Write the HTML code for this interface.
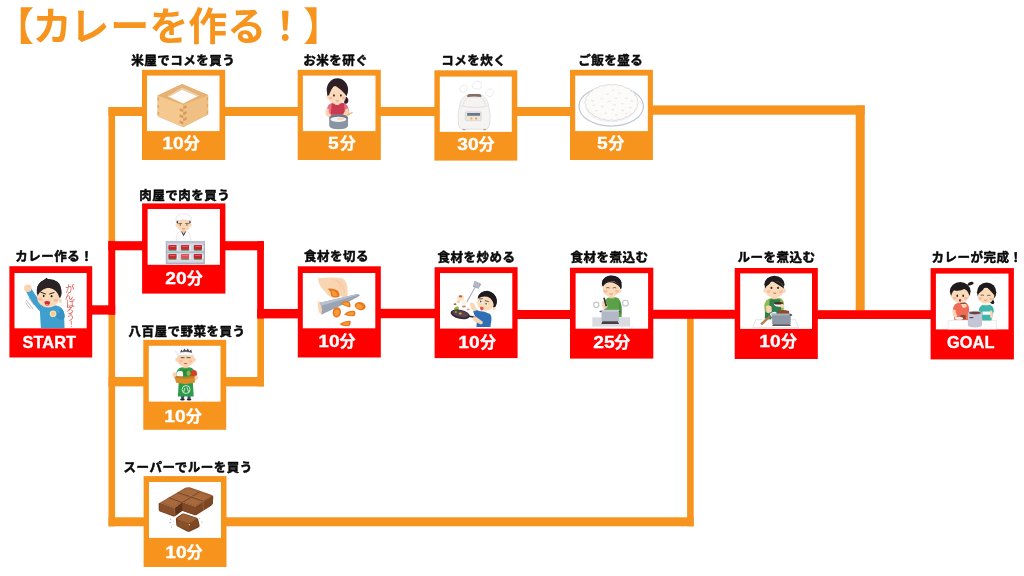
<!DOCTYPE html>
<html lang="ja"><head><meta charset="utf-8"><title>カレーを作る！</title>
<style>
html,body{margin:0;padding:0;background:#fff}
body{width:1024px;height:576px;overflow:hidden;position:relative;font-family:"Liberation Sans","Noto Sans CJK JP",sans-serif}
#art{position:absolute;left:0;top:0}
#art svg.ic{overflow:hidden}
#art text{font-family:"Liberation Sans","Noto Sans CJK JP",sans-serif}
.band{position:absolute;width:90px;text-align:center;color:#fff;font-weight:bold;font-size:16px;line-height:16px;white-space:nowrap}
.band span{display:inline-block;vertical-align:top}
.band .d{transform:scaleX(1.2);transform-origin:50% 50%;margin:0 1.8px;-webkit-text-stroke:0.3px #fff}
.band .w{font-size:16.4px;-webkit-text-stroke:0.35px #fff}
.band .f{font-size:16px;font-family:"Liberation Sans","Noto Sans CJK JP",sans-serif;-webkit-text-stroke:0.3px #fff}
#stage{position:absolute;left:0;top:0;width:1024px;height:576px;overflow:hidden;background:#fff;filter:blur(0.5px)}
</style></head><body>
<div id="stage">
<svg id="art" width="1024" height="576" viewBox="0 0 1024 576">
<g id="connectors">
<rect x="108.5" y="107.0" width="6.6" height="419.3" fill="#F7941E"/>
<rect x="108.5" y="107.0" width="34.5" height="9.0" fill="#F7941E"/>
<rect x="224.0" y="107.0" width="75.0" height="9.0" fill="#F7941E"/>
<rect x="380.0" y="107.0" width="55.0" height="9.0" fill="#F7941E"/>
<rect x="516.0" y="107.0" width="55.0" height="9.0" fill="#F7941E"/>
<rect x="652.0" y="105.4" width="212.7" height="9.3" fill="#F7941E"/>
<rect x="855.7" y="105.4" width="9.0" height="205.1" fill="#F7941E"/>
<rect x="108.5" y="377.0" width="35.5" height="9.4" fill="#F7941E"/>
<rect x="225.0" y="377.0" width="39.0" height="9.4" fill="#F7941E"/>
<rect x="257.3" y="318.0" width="6.7" height="68.4" fill="#F7941E"/>
<rect x="108.5" y="517.3" width="35.5" height="9.0" fill="#F7941E"/>
<rect x="225.0" y="517.3" width="468.7" height="9.0" fill="#F7941E"/>
<rect x="687.1" y="318.0" width="6.6" height="208.3" fill="#F7941E"/>
<rect x="91.0" y="305.3" width="24.2" height="9.3" fill="#FE0000"/>
<rect x="108.4" y="241.2" width="6.8" height="73.4" fill="#FE0000"/>
<rect x="108.4" y="241.2" width="34.6" height="9.1" fill="#FE0000"/>
<rect x="224.0" y="241.2" width="39.9" height="9.1" fill="#FE0000"/>
<rect x="257.2" y="241.2" width="6.7" height="77.2" fill="#FE0000"/>
<rect x="257.2" y="309.0" width="41.8" height="9.4" fill="#FE0000"/>
<rect x="380.0" y="308.8" width="56.0" height="9.4" fill="#FE0000"/>
<rect x="516.0" y="310.0" width="55.0" height="9.0" fill="#FE0000"/>
<rect x="652.0" y="309.8" width="84.0" height="9.0" fill="#FE0000"/>
<rect x="816.0" y="310.2" width="116.0" height="8.8" fill="#FE0000"/>
</g>
<g id="rice_shop"><rect x="142.0" y="69.8" width="83.2" height="90.2" fill="#F7941E"/><rect x="147.0" y="75.6" width="72.5" height="55.5" fill="#fff"/><svg class="ic" x="147.0" y="75.6" width="72.5" height="55.5" viewBox="147.0 75.6 72.5 55.5"><g transform="translate(147 75) scale(0.09891)">
<polygon points="355,92 618,203 618,400 365,528 107,416 107,208" fill="#E9B879"/>
<polygon points="107,208 365,300 365,528 107,416" fill="#F4C88F"/>
<polygon points="365,300 618,203 618,400 365,528" fill="#EFBF83"/>
<polygon points="355,92 618,203 365,300 107,208" fill="#E6B273"/>
<polygon points="355,128 525,208 365,288 210,214" fill="#FFFDFB"/>
<polygon points="355,128 525,208 500,212 355,150 235,214 210,214" fill="#D9A566" opacity=".55"/>
<g fill="#D39B5C">
<polygon points="365,318 400,305 400,330 365,345"/>
<polygon points="330,335 365,348 365,375 330,362"/>
<polygon points="365,378 400,364 400,392 365,406"/>
<polygon points="330,396 365,410 365,438 330,424"/>
<polygon points="365,440 400,425 400,452 365,468"/>
<polygon points="330,458 365,472 365,500 330,486"/>
</g>
<g fill="#DDA96B">
<polygon points="107,225 122,231 122,262 107,256"/>
<polygon points="107,300 122,306 122,338 107,332"/>
<polygon points="107,370 122,376 122,405 107,399"/>
<polygon points="618,222 603,228 603,258 618,252"/>
<polygon points="618,292 603,298 603,328 618,322"/>
<polygon points="618,358 603,364 603,392 618,386"/>
</g>
</g>
</svg></g>
<g id="wash"><rect x="297.7" y="69.8" width="83.1" height="90.2" fill="#F7941E"/><rect x="302.9" y="75.6" width="72.6" height="55.5" fill="#fff"/><svg class="ic" x="302.9" y="75.6" width="72.6" height="55.5" viewBox="302.9 75.6 72.6 55.5"><g transform="translate(303 75) scale(0.09891)">
<!-- ponytail -->
<path d="M425,215 Q470,235 455,275 Q440,300 415,285 Z" fill="#2E1F26"/>
<!-- hair back -->
<ellipse cx="348" cy="150" rx="108" ry="116" fill="#2E1F26"/>
<!-- body -->
<path d="M245,330 Q255,285 310,280 L390,280 Q445,285 458,330 L470,400 L420,430 L280,430 L232,400 Z" fill="#EC6F80"/>
<path d="M290,285 L415,285 L425,400 L282,400 Z" fill="#C93A50"/>
<!-- neck -->
<path d="M318,270 L372,270 L368,298 Q345,310 322,298 Z" fill="#F6CBA6"/>
<!-- face -->
<ellipse cx="342" cy="215" rx="94" ry="80" fill="#FBDABB"/>
<ellipse cx="252" cy="222" rx="14" ry="18" fill="#FBDABB"/>
<ellipse cx="338" cy="178" rx="84" ry="66" fill="#FBDABB"/>
<!-- bangs -->
<path d="M244,210 Q245,118 318,100 Q285,140 262,205 Z" fill="#2E1F26"/>
<path d="M318,100 Q430,100 442,210 Q395,150 318,100 Z" fill="#2E1F26"/>
<ellipse cx="313" cy="206" rx="9" ry="12" fill="#3a2a2a"/>
<ellipse cx="383" cy="206" rx="9" ry="12" fill="#3a2a2a"/>
<ellipse cx="280" cy="232" rx="20" ry="13" fill="#F7A9A0" opacity=".7"/>
<ellipse cx="412" cy="232" rx="20" ry="13" fill="#F7A9A0" opacity=".7"/>
<path d="M335,262 Q347,270 360,262" stroke="#C96A5A" stroke-width="6" fill="none" stroke-linecap="round"/>
<!-- arms -->
<path d="M238,335 Q215,380 235,410 Q262,440 290,425 L275,395 Q255,385 262,345 Z" fill="#FAD6B4"/>
<path d="M452,335 Q475,375 452,405 Q420,440 385,450 L370,425 Q415,405 428,350 Z" fill="#FAD6B4"/>
<!-- stick -->
<path d="M395,425 L498,372 L505,385 L402,440 Z" fill="#E9C38E"/>
<!-- pot -->
<path d="M265,440 L265,510 Q265,545 360,548 Q455,545 455,510 L455,440 Z" fill="#8A94A2"/>
<ellipse cx="360" cy="436" rx="96" ry="40" fill="#6F7886"/>
<ellipse cx="358" cy="448" rx="82" ry="27" fill="#EEF2F7"/>
<path d="M345,440 Q380,420 420,435 L400,455 Q370,450 350,460 Z" fill="#FAD6B4"/>
</g>
</svg></g>
<g id="cooker"><rect x="434.4" y="70.3" width="82.9" height="90.3" fill="#F7941E"/><rect x="439.8" y="76.6" width="72.0" height="55.3" fill="#fff"/><svg class="ic" x="439.8" y="76.6" width="72.0" height="55.3" viewBox="439.8 76.6 72.0 55.3"><g transform="translate(440 76) scale(0.09891)">
<!-- steam -->
<g fill="#fff" stroke="#E4E4E6" stroke-width="7">
<path d="M205,150 Q190,110 225,100 Q235,80 262,95 Q285,100 272,130 Q265,165 235,168 Z"/>
<path d="M330,120 Q310,85 345,70 Q360,40 395,55 Q425,60 418,95 Q425,125 390,135 Z"/>
<path d="M465,190 Q450,160 480,145 Q495,120 525,135 Q550,150 535,180 Q525,215 495,210 Z"/>
</g>
<!-- body -->
<path d="M200,290 Q215,205 290,190 L410,190 Q470,205 490,290 Q520,400 500,500 Q495,535 450,538 L245,538 Q195,535 188,500 Q170,400 200,290 Z" fill="#F6F4F3" stroke="#DAD7D6" stroke-width="7"/>
<path d="M205,300 Q345,335 485,300" fill="none" stroke="#D8D5D4" stroke-width="7"/>
<path d="M235,290 Q250,225 300,212 L400,212 Q440,225 458,290" fill="none" stroke="#DAD7D6" stroke-width="7"/>
<!-- handle -->
<path d="M275,200 Q275,182 300,182 L395,182 Q418,182 418,200 L418,212 Q345,200 275,212 Z" fill="#8B6B66"/>
<!-- panel -->
<rect x="255" y="362" width="162" height="90" rx="8" fill="#E4E2E4" stroke="#CFCBCD" stroke-width="5"/>
<rect x="275" y="374" width="130" height="28" fill="#66788A"/>
<rect x="270" y="414" width="130" height="30" rx="6" fill="#F3E7D3"/>
<circle cx="318" cy="430" r="11" fill="#F0A04B"/>
<circle cx="366" cy="430" r="11" fill="#E8903C"/>
<!-- feet -->
<rect x="228" y="535" width="28" height="14" rx="4" fill="#A9A6A8"/>
<rect x="438" y="535" width="28" height="14" rx="4" fill="#A9A6A8"/>
</g>
</svg></g>
<g id="plate"><rect x="570.0" y="69.8" width="82.9" height="90.2" fill="#F7941E"/><rect x="575.2" y="75.6" width="72.6" height="55.5" fill="#fff"/><svg class="ic" x="575.2" y="75.6" width="72.6" height="55.5" viewBox="575.2 75.6 72.6 55.5"><g transform="translate(575 75) scale(0.09891)">
<ellipse cx="366" cy="316" rx="326" ry="200" fill="#FDFDFE" stroke="#BFC6D2" stroke-width="12"/>
<ellipse cx="366" cy="322" rx="250" ry="150" fill="none" stroke="#E6E9EE" stroke-width="8"/>
<path d="M639,278 Q642,291 625,303 Q637,318 628,329 Q626,343 605,351 Q610,367 596,377 Q589,389 565,393 Q563,409 546,416 Q534,426 510,425 Q501,441 482,444 Q466,452 443,446 Q428,459 408,459 Q390,463 370,453 Q350,463 332,459 Q312,459 297,446 Q274,452 258,444 Q239,441 230,425 Q206,426 194,416 Q177,409 175,393 Q151,389 144,377 Q130,367 135,351 Q114,343 112,329 Q103,318 115,303 Q98,291 101,278 Q98,265 115,253 Q103,238 112,227 Q114,213 135,205 Q130,189 144,179 Q151,167 175,163 Q177,147 194,140 Q206,130 230,131 Q239,115 258,112 Q274,104 297,110 Q312,97 332,97 Q350,93 370,103 Q390,93 408,97 Q428,97 443,110 Q466,104 482,112 Q501,115 510,131 Q534,130 546,140 Q563,147 565,163 Q589,167 596,179 Q610,189 605,205 Q626,213 628,227 Q637,238 625,253 Q642,265 639,278 Z" fill="#FCFBFA" stroke="#DDD6D2" stroke-width="9"/>
<ellipse cx="385" cy="155" rx="17" ry="8" fill="#ECE9E8"/><ellipse cx="450" cy="185" rx="17" ry="8" fill="#ECE9E8"/><ellipse cx="330" cy="195" rx="17" ry="8" fill="#ECE9E8"/><ellipse cx="270" cy="240" rx="17" ry="8" fill="#ECE9E8"/><ellipse cx="415" cy="235" rx="17" ry="8" fill="#ECE9E8"/><ellipse cx="520" cy="235" rx="17" ry="8" fill="#ECE9E8"/><ellipse cx="345" cy="265" rx="17" ry="8" fill="#ECE9E8"/><ellipse cx="175" cy="260" rx="17" ry="8" fill="#ECE9E8"/><ellipse cx="575" cy="265" rx="17" ry="8" fill="#ECE9E8"/><ellipse cx="480" cy="290" rx="17" ry="8" fill="#ECE9E8"/><ellipse cx="190" cy="305" rx="17" ry="8" fill="#ECE9E8"/><ellipse cx="275" cy="320" rx="17" ry="8" fill="#ECE9E8"/><ellipse cx="400" cy="300" rx="17" ry="8" fill="#ECE9E8"/><ellipse cx="560" cy="330" rx="17" ry="8" fill="#ECE9E8"/><ellipse cx="385" cy="350" rx="17" ry="8" fill="#ECE9E8"/><ellipse cx="480" cy="360" rx="17" ry="8" fill="#ECE9E8"/><ellipse cx="215" cy="360" rx="17" ry="8" fill="#ECE9E8"/><ellipse cx="310" cy="385" rx="17" ry="8" fill="#ECE9E8"/><ellipse cx="420" cy="405" rx="17" ry="8" fill="#ECE9E8"/><ellipse cx="520" cy="390" rx="17" ry="8" fill="#ECE9E8"/>
</g>
</svg></g>
<g id="butcher"><rect x="142.1" y="203.4" width="83.3" height="90.2" fill="#FE0000"/><rect x="147.6" y="209.0" width="72.3" height="55.8" fill="#fff"/><svg class="ic" x="147.6" y="209.0" width="72.3" height="55.8" viewBox="147.6 209.0 72.3 55.8"><g transform="translate(147 208) scale(0.09891)">
<!-- body coat -->
<path d="M295,340 Q292,260 330,238 L410,238 Q445,260 442,340 Z" fill="#FBFBFC" stroke="#DADCE2" stroke-width="6"/>
<path d="M345,238 L370,285 L395,238 Z" fill="#3E3A44"/>
<path d="M352,236 L370,262 L388,236 Z" fill="#F8D2B0"/>
<!-- head -->
<ellipse cx="370" cy="168" rx="72" ry="68" fill="#FAD7B6"/>
<ellipse cx="298" cy="172" rx="10" ry="15" fill="#FAD7B6"/>
<ellipse cx="442" cy="172" rx="10" ry="15" fill="#FAD7B6"/>
<path d="M298,150 Q296,128 312,122 L312,160 Z" fill="#3a3036"/>
<path d="M442,150 Q444,128 428,122 L428,160 Z" fill="#3a3036"/>
<!-- cap -->
<path d="M292,128 Q285,62 370,58 Q455,62 448,128 Q370,112 292,128 Z" fill="#FDFDFE" stroke="#D9DBE1" stroke-width="6"/>
<path d="M320,158 L350,156" stroke="#4a3a3a" stroke-width="7" stroke-linecap="round"/>
<path d="M390,156 L420,158" stroke="#4a3a3a" stroke-width="7" stroke-linecap="round"/>
<ellipse cx="336" cy="172" rx="6" ry="8" fill="#3a2c2c"/>
<ellipse cx="404" cy="172" rx="6" ry="8" fill="#3a2c2c"/>
<path d="M358,210 Q370,216 382,210" stroke="#B8624E" stroke-width="6" fill="none" stroke-linecap="round"/>
<!-- case -->
<rect x="190" y="335" width="396" height="232" fill="#AAB4C6"/>
<rect x="205" y="352" width="366" height="200" fill="#D3D8E2"/>
<rect x="190" y="440" width="396" height="14" fill="#AAB4C6"/>
<rect x="190" y="335" width="396" height="22" fill="#B9C1D0"/>
<rect x="216" y="374" width="84" height="50" rx="10" fill="#C8242E"/><rect x="218" y="422" width="80" height="10" rx="4" fill="#4E9A4B"/><rect x="228" y="388" width="60" height="6" rx="3" fill="#F2B7B4" opacity=".8"/><rect x="302" y="382" width="12" height="40" fill="#F4F4F6"/><rect x="343" y="374" width="84" height="50" rx="10" fill="#C42B35"/><rect x="345" y="422" width="80" height="10" rx="4" fill="#4E9A4B"/><rect x="355" y="388" width="60" height="6" rx="3" fill="#F2B7B4" opacity=".8"/><rect x="429" y="382" width="12" height="40" fill="#F4F4F6"/><rect x="473" y="374" width="84" height="50" rx="10" fill="#BE2630"/><rect x="475" y="422" width="80" height="10" rx="4" fill="#4E9A4B"/><rect x="485" y="388" width="60" height="6" rx="3" fill="#F2B7B4" opacity=".8"/><rect x="559" y="382" width="12" height="40" fill="#F4F4F6"/><rect x="216" y="466" width="84" height="50" rx="10" fill="#C92A30"/><rect x="218" y="514" width="80" height="10" rx="4" fill="#4E9A4B"/><rect x="228" y="480" width="60" height="6" rx="3" fill="#F2B7B4" opacity=".8"/><rect x="302" y="474" width="12" height="40" fill="#F4F4F6"/><rect x="343" y="466" width="84" height="50" rx="10" fill="#E0505A"/><rect x="345" y="514" width="80" height="10" rx="4" fill="#4E9A4B"/><rect x="355" y="480" width="60" height="6" rx="3" fill="#F2B7B4" opacity=".8"/><rect x="429" y="474" width="12" height="40" fill="#F4F4F6"/><rect x="473" y="466" width="84" height="50" rx="10" fill="#C4222C"/><rect x="475" y="514" width="80" height="10" rx="4" fill="#4E9A4B"/><rect x="485" y="480" width="60" height="6" rx="3" fill="#F2B7B4" opacity=".8"/><rect x="559" y="474" width="12" height="40" fill="#F4F4F6"/>
</g>
</svg></g>
<g id="start"><rect x="9.4" y="266.2" width="82.8" height="91.3" fill="#FE0000"/><rect x="14.5" y="273.0" width="72.2" height="55.3" fill="#fff"/><svg class="ic" x="14.5" y="273.0" width="72.2" height="55.3" viewBox="14.5 273.0 72.2 55.3"><g transform="translate(14 272) scale(0.09891)">
<!-- motion lines -->
<g stroke="#9AA0AE" stroke-width="7" stroke-linecap="round"><path d="M150,262 L200,330"/><path d="M125,285 L192,372"/><path d="M118,312 L165,372"/></g>
<!-- raised arm -->
<path d="M118,190 L175,168 Q235,270 300,335 L275,410 Q180,320 118,190 Z" fill="#3F9FCE"/>
<circle cx="140" cy="165" r="38" fill="#FAD4B0"/>
<!-- torso -->
<path d="M262,400 Q262,345 330,338 L430,338 Q495,350 505,420 L512,576 L272,576 Z" fill="#3F9FCE"/>
<!-- right arm across chest -->
<path d="M470,370 Q520,400 512,460 Q500,500 440,470 L400,445 L415,400 L455,420 Z" fill="#3591C2"/>
<circle cx="395" cy="422" r="34" fill="#FBDDB0"/>
<circle cx="395" cy="422" r="20" fill="#F7C98A"/>
<!-- hair -->
<path d="M232,235 Q215,120 300,82 L330,58 L350,78 Q440,72 470,150 Q495,215 468,262 L430,170 Q330,150 262,190 Z" fill="#2A2226"/>
<ellipse cx="355" cy="170" rx="118" ry="100" fill="#2A2226"/>
<!-- face -->
<ellipse cx="347" cy="258" rx="113" ry="100" fill="#FBDAB7"/>
<ellipse cx="468" cy="292" rx="16" ry="22" fill="#FBDAB7"/>
<path d="M236,245 Q240,165 330,145 Q425,145 458,215 Q472,250 464,270 Q435,168 350,160 Q275,168 236,245 Z" fill="#2A2226"/>
<!-- brows & eyes -->
<path d="M272,205 L318,222" stroke="#2A2226" stroke-width="10" stroke-linecap="round"/>
<path d="M360,222 L405,208" stroke="#2A2226" stroke-width="10" stroke-linecap="round"/>
<ellipse cx="300" cy="242" rx="9" ry="12" fill="#2A2226"/>
<ellipse cx="380" cy="244" rx="9" ry="12" fill="#2A2226"/>
<ellipse cx="268" cy="275" rx="22" ry="14" fill="#F6A79C" opacity=".7"/>
<ellipse cx="422" cy="285" rx="22" ry="14" fill="#F6A79C" opacity=".7"/>
<path d="M308,298 Q338,288 365,300 Q362,340 335,342 Q310,338 308,298 Z" fill="#D8282F"/>
<path d="M318,326 Q336,318 352,328 Q345,342 335,342 Q324,341 318,326 Z" fill="#F08A8A"/>
<!-- handwriting -->
<g fill="#D8504E" text-anchor="middle"><text x="566" y="203" font-size="95">が</text><text x="556" y="275" font-size="85">ん</text><text x="572" y="350" font-size="88">ば</text><text x="566" y="417" font-size="80">ろ</text><text x="572" y="488" font-size="80">う</text><text x="578" y="557" font-size="80">！</text></g>
</g>
</svg></g>
<g id="veg"><rect x="143.3" y="339.8" width="82.9" height="90.0" fill="#F7941E"/><rect x="148.8" y="345.8" width="71.7" height="55.8" fill="#fff"/><svg class="ic" x="148.8" y="345.8" width="71.7" height="55.8" viewBox="148.8 345.8 71.7 55.8"><g transform="translate(148 345) scale(0.09891)">
<!-- legs/feet -->
<rect x="335" y="515" width="30" height="30" fill="#3b4a6a"/>
<rect x="400" y="515" width="30" height="30" fill="#3b4a6a"/>
<ellipse cx="348" cy="552" rx="24" ry="10" fill="#2a2730"/>
<ellipse cx="415" cy="552" rx="24" ry="10" fill="#2a2730"/>
<!-- shirt -->
<path d="M285,290 Q290,232 345,225 L420,225 Q470,235 478,290 L470,340 L295,340 Z" fill="#3FA85A"/>
<!-- apron -->
<path d="M320,232 L445,232 L462,520 L302,520 Z" fill="#2E9B4B"/>
<!-- neck -->
<rect x="358" y="200" width="44" height="34" fill="#F3C7A0"/>
<!-- head -->
<ellipse cx="380" cy="142" rx="88" ry="76" fill="#FAD3AE"/>
<ellipse cx="290" cy="150" rx="14" ry="20" fill="#FAD3AE"/>
<ellipse cx="470" cy="150" rx="14" ry="20" fill="#FAD3AE"/>
<!-- hair -->
<path d="M325,78 L335,45 L352,62 L368,35 L385,58 L402,35 L418,60 L438,45 L445,80 Z" fill="#4a464e"/>
<!-- headband -->
<path d="M295,108 Q300,72 380,70 Q460,72 465,108 Q380,92 295,108 Z" fill="#FCFCFD" stroke="#D8DAE0" stroke-width="5"/>
<path d="M290,95 L275,60 L300,75 Z" fill="#FCFCFD" stroke="#D8DAE0" stroke-width="4"/>
<path d="M335,128 L365,128 M395,128 L425,128" stroke="#3a2c2c" stroke-width="8" stroke-linecap="round"/>
<ellipse cx="330" cy="165" rx="18" ry="11" fill="#F6A79C" opacity=".6"/>
<ellipse cx="430" cy="165" rx="18" ry="11" fill="#F6A79C" opacity=".6"/>
<path d="M360,182 Q380,200 400,182 Z" fill="#C7453F"/>
<!-- veg -->
<ellipse cx="325" cy="292" rx="36" ry="30" fill="#FBFBF6"/>
<path d="M350,250 Q395,235 430,262 L425,310 L355,310 Z" fill="#2F8A3E"/>
<ellipse cx="462" cy="292" rx="34" ry="40" fill="#D4402F"/>
<ellipse cx="410" cy="285" rx="20" ry="26" fill="#7DBA46"/>
<!-- basket -->
<path d="M262,308 Q375,338 492,308 L470,382 Q375,405 285,382 Z" fill="#D98E2B"/>
<path d="M262,308 Q375,338 492,308 L488,325 Q375,355 266,325 Z" fill="#C27A20"/>
<!-- hands -->
<ellipse cx="268" cy="300" rx="20" ry="24" fill="#FAD3AE"/>
<ellipse cx="488" cy="330" rx="18" ry="22" fill="#FAD3AE"/>
<!-- logo -->
<circle cx="385" cy="450" r="40" fill="none" stroke="#DFF2E3" stroke-width="9"/>
<path d="M372,438 L362,470 M395,432 L410,470" stroke="#DFF2E3" stroke-width="9" stroke-linecap="round"/>
</g>
</svg></g>
<g id="roux"><rect x="143.6" y="476.1" width="82.9" height="90.9" fill="#F7941E"/><rect x="149.0" y="482.0" width="72.0" height="55.9" fill="#fff"/><svg class="ic" x="149.0" y="482.0" width="72.0" height="55.9" viewBox="149.0 482.0 72.0 55.9"><g transform="translate(148 482) scale(0.09891)">
<!-- side faces -->
<path d="M108,218 L120,210 L268,265 L345,205 L478,250 L648,135 L660,150 L656,215 Q652,232 635,242 L490,334 Q478,340 465,334 L350,292 Q342,289 334,296 L280,342 Q266,352 250,346 L122,298 Q108,292 108,272 Z" fill="#74401F"/>
<path d="M268,265 L345,205 L348,290 L276,345 Z" fill="#5F3318"/>
<path d="M478,250 L648,135 L658,150 L655,218 L485,334 Z" fill="#7E4723"/>
<path d="M120,210 L268,265 L276,345 L118,296 Z" fill="#87502B"/>
<path d="M345,205 L478,250 L485,334 L348,290 Z" fill="#804825"/>
<!-- top -->
<path d="M120,210 L372,60 Q395,48 422,54 L640,128 Q656,136 640,148 L478,250 L345,205 L268,265 Z" fill="#9C6036"/>
<!-- block pillows -->
<g fill="#A96C40" opacity=".85">
<path d="M150,208 L218,168 L320,205 L262,248 Z"/>
<path d="M240,155 L305,118 L420,160 L350,198 Z"/>
<path d="M330,102 L395,65 L505,102 L440,140 Z"/>
<path d="M455,155 L520,112 L625,145 L560,188 Z"/>
<path d="M370,205 L435,165 L540,198 L480,238 Z"/>
</g>
<!-- grooves -->
<g stroke="#6F3D1E" stroke-width="9" fill="none" stroke-linecap="round"><path d="M345,205 L521,96"/><path d="M214,158 L345,205"/><path d="M305,106 L556,190"/></g>
<g stroke="#C9966A" stroke-width="4" fill="none" stroke-linecap="round" opacity=".8"><path d="M350,196 L520,90"/><path d="M220,152 L340,195"/><path d="M312,100 L556,182"/><path d="M268,268 L275,335"/><path d="M556,194 L560,280"/></g>
<!-- small block -->
<path d="M282,372 Q285,360 300,352 L345,322 Q358,316 372,320 L492,362 Q505,368 508,380 L522,438 Q524,452 510,460 L420,502 Q408,506 395,500 L298,450 Q288,444 286,432 Z" fill="#74401F"/>
<path d="M292,368 L350,326 Q360,320 372,325 L495,368 Q455,405 410,420 L300,378 Z" fill="#9C6036"/>
<path d="M410,420 Q455,405 495,368 L515,440 L418,495 Z" fill="#7E4723"/>
<path d="M300,378 L410,420 L418,495 L296,446 Z" fill="#87502B"/>
<circle cx="418" cy="432" r="7" fill="#E8C7A0"/>
<!-- crumbs -->
<g fill="#A9A3A8"><circle cx="228" cy="375" r="7"/><circle cx="222" cy="410" r="7"/><circle cx="255" cy="395" r="5"/><circle cx="238" cy="455" r="6"/><circle cx="258" cy="430" r="4"/><circle cx="518" cy="368" r="5"/><circle cx="545" cy="405" r="6"/></g>
</g>
</svg></g>
<g id="cut"><rect x="297.8" y="266.3" width="83.0" height="91.2" fill="#FE0000"/><rect x="302.8" y="273.0" width="72.5" height="55.3" fill="#fff"/><svg class="ic" x="302.8" y="273.0" width="72.5" height="55.3" viewBox="302.8 273.0 72.5 55.3"><g transform="translate(303 272) scale(0.09891)">
<!-- hand -->
<path d="M150,62 Q300,48 395,62 Q440,80 448,150 L452,235 Q430,262 395,250 L370,232 Q330,262 290,258 Q240,235 215,190 Q160,140 150,62 Z" fill="#FAD5B2"/>
<path d="M340,85 Q405,110 420,200" stroke="#F0BE97" stroke-width="8" fill="none"/>
<path d="M300,70 Q360,90 385,170" stroke="#F2C4A0" stroke-width="6" fill="none"/>
<!-- carrot in hand -->
<path d="M250,170 Q300,160 345,185 Q375,215 368,250 Q340,262 300,255 Q275,230 278,200 Z" fill="#E9761C"/>
<path d="M290,185 Q330,190 350,235 Q330,250 305,245 Q290,220 290,185 Z" fill="#F39A3C"/>
<!-- other hand fragment -->
<path d="M150,300 Q185,295 200,320 L205,400 Q190,425 168,420 Q150,380 150,300 Z" fill="#FAD5B2"/>
<!-- knife -->
<path d="M168,312 L548,222 Q570,222 575,238 Q480,300 182,432 Q205,370 168,312 Z" fill="#9AA4B4"/>
<path d="M168,312 L548,222 Q560,222 566,228 L185,340 Z" fill="#B9C1CE"/>
<!-- carrot pieces -->
<g fill="#E9761C">
<path d="M380,320 Q420,280 470,300 Q488,330 475,358 Q430,350 380,320 Z"/>
<ellipse cx="578" cy="345" rx="56" ry="40" transform="rotate(15 578 345)"/>
<ellipse cx="342" cy="408" rx="42" ry="52" transform="rotate(10 342 408)"/>
<path d="M415,432 Q450,385 520,392 Q540,420 520,445 Q465,452 415,432 Z"/>
<path d="M370,528 Q410,495 478,492 Q490,520 465,545 Q410,555 370,528 Z"/>
</g>
<g fill="#F49B3A">
<path d="M400,318 Q430,298 462,312 Q470,330 462,345 Q430,340 400,318 Z"/>
<ellipse cx="570" cy="348" rx="36" ry="24" transform="rotate(15 570 348)"/>
<ellipse cx="342" cy="412" rx="26" ry="34" transform="rotate(10 342 412)"/>
<path d="M440,428 Q465,402 510,405 Q520,420 508,435 Q470,440 440,428 Z"/>
<path d="M395,525 Q425,505 465,505 Q470,520 455,535 Q420,540 395,525 Z"/>
</g>
</g>
</svg></g>
<g id="stir"><rect x="434.6" y="267.2" width="83.0" height="90.9" fill="#FE0000"/><rect x="440.0" y="273.1" width="72.3" height="55.5" fill="#fff"/><svg class="ic" x="440.0" y="273.1" width="72.3" height="55.5" viewBox="440.0 273.1 72.3 55.5"><g transform="translate(440 272) scale(0.09891)">
<!-- spatula -->
<path d="M352,160 L272,302" stroke="#A7AFBD" stroke-width="11" stroke-linecap="round"/>
<path d="M350,88 L418,122 L388,170 L332,150 Z" fill="#9EA8B8"/>
<path d="M358,102 L350,140 M375,108 L366,148 M392,116 L382,156" stroke="#E9ECF1" stroke-width="5"/>
<!-- food -->
<ellipse cx="208" cy="262" rx="36" ry="30" fill="#F7E6CB"/>
<ellipse cx="208" cy="246" rx="18" ry="12" fill="#B9683C"/>
<ellipse cx="245" cy="305" rx="28" ry="22" fill="#FBF3E6"/>
<ellipse cx="185" cy="300" rx="18" ry="14" fill="#F2D2A8"/>
<ellipse cx="152" cy="325" rx="14" ry="9" fill="#A8623C"/>
<ellipse cx="242" cy="348" rx="20" ry="10" fill="#C98A5A"/>
<ellipse cx="285" cy="378" rx="16" ry="9" fill="#D9A77A"/>
<path d="M140,372 Q160,340 185,350 Q200,375 178,395 Q155,398 140,372 Z" fill="#86B83E"/>
<!-- pan -->
<g transform="rotate(12 205 428)">
<ellipse cx="205" cy="428" rx="100" ry="46" fill="#3A2B35"/>
<ellipse cx="205" cy="422" rx="82" ry="32" fill="#55434E"/>
<rect x="295" y="420" width="70" height="15" rx="7" fill="#2E232B"/>
</g>
<ellipse cx="205" cy="420" rx="16" ry="10" fill="#D9A04A"/>
<ellipse cx="160" cy="405" rx="14" ry="8" fill="#86B83E"/>
<ellipse cx="245" cy="432" rx="14" ry="8" fill="#7B3F6B"/>
<!-- body -->
<path d="M335,385 Q350,365 395,395 Q450,395 505,425 Q525,440 520,480 L510,556 L368,556 L375,470 Q340,440 335,385 Z" fill="#2F6FB6"/>
<!-- raised hand -->
<path d="M300,318 Q325,300 345,322 L372,388 L338,398 Q305,360 300,318 Z" fill="#FAD5B2"/>
<!-- front arm & hand -->
<path d="M330,462 Q352,445 378,462 L430,500 Q440,525 415,530 L350,500 Q325,488 330,462 Z" fill="#FAD5B2"/>
<!-- head -->
<path d="M385,258 Q400,190 480,190 Q560,205 575,285 Q575,340 545,368 Q520,300 470,262 Q420,250 385,258 Z" fill="#1E1A1F"/>
<ellipse cx="462" cy="305" rx="86" ry="88" fill="#FBDAB7"/>
<path d="M380,270 Q395,200 475,192 Q555,205 573,285 Q575,335 548,365 Q548,300 505,262 Q445,232 380,270 Z" fill="#1E1A1F"/>
<ellipse cx="548" cy="372" rx="13" ry="17" fill="#FBDAB7"/>
<ellipse cx="414" cy="300" rx="15" ry="17" fill="#fff"/><ellipse cx="412" cy="298" rx="8" ry="10" fill="#2b4a5a"/>
<ellipse cx="468" cy="322" rx="15" ry="17" fill="#fff"/><ellipse cx="466" cy="320" rx="8" ry="10" fill="#2b4a5a"/>
<path d="M398,272 L428,270 M458,290 L490,300" stroke="#1E1A1F" stroke-width="7" stroke-linecap="round"/>
<path d="M405,352 Q425,348 445,365 Q435,392 415,388 Q402,375 405,352 Z" fill="#E0524A"/>
</g>
</svg></g>
<g id="simmer"><rect x="570.0" y="267.7" width="83.3" height="90.9" fill="#FE0000"/><rect x="575.6" y="273.2" width="72.5" height="55.5" fill="#fff"/><svg class="ic" x="575.6" y="273.2" width="72.5" height="55.5" viewBox="575.6 273.2 72.5 55.5"><g transform="translate(575 272) scale(0.09891)">
<!-- counter -->
<rect x="175" y="458" width="382" height="94" fill="#D9DBE1"/>
<!-- body -->
<path d="M292,330 Q300,262 350,255 L415,255 Q462,268 470,340 L472,455 L300,455 Z" fill="#5BA148"/>
<path d="M440,290 Q478,330 470,420 L450,440 Z" fill="#4C8F3C"/>
<!-- neck -->
<rect x="345" y="232" width="50" height="34" fill="#F6CBA6"/>
<!-- hair -->
<path d="M272,150 Q262,60 345,38 Q440,30 470,100 Q480,150 462,185 L440,120 Q350,100 290,125 Z" fill="#1F1B20"/>
<ellipse cx="370" cy="108" rx="98" ry="72" fill="#1F1B20"/>
<!-- face -->
<ellipse cx="365" cy="172" rx="86" ry="80" fill="#FBDAB7"/>
<ellipse cx="452" cy="190" rx="16" ry="22" fill="#FBDAB7"/>
<path d="M280,150 Q285,98 350,92 Q430,92 460,160 Q410,102 345,104 Q300,110 280,150 Z" fill="#1F1B20"/>
<path d="M318,160 Q332,152 346,160 M385,160 Q400,152 414,160" stroke="#3a2c2c" stroke-width="7" fill="none" stroke-linecap="round"/>
<ellipse cx="310" cy="195" rx="22" ry="14" fill="#F6A79C" opacity=".7"/>
<ellipse cx="425" cy="195" rx="22" ry="14" fill="#F6A79C" opacity=".7"/>
<path d="M352,222 Q366,230 380,222" stroke="#B8624E" stroke-width="6" fill="none" stroke-linecap="round"/>
<!-- hand + utensil -->
<path d="M272,300 Q300,290 318,312 L330,352 Q315,378 288,372 Q265,345 272,300 Z" fill="#FAD5B2"/>
<path d="M285,262 L300,258 L325,345 L308,350 Z" fill="#3a3036"/>
<!-- steam rings -->
<circle cx="215" cy="332" r="27" fill="#fff" stroke="#C2C2C9" stroke-width="11"/>
<circle cx="510" cy="315" r="29" fill="#fff" stroke="#C2C2C9" stroke-width="11"/>
<!-- pot -->
<rect x="268" y="388" width="176" height="112" rx="10" fill="#B3B8C7"/>
<rect x="262" y="382" width="188" height="20" rx="8" fill="#C6CAD6"/>
<rect x="248" y="392" width="22" height="14" rx="5" fill="#5a5560"/>
<rect x="442" y="392" width="22" height="14" rx="5" fill="#5a5560"/>
<!-- stove -->
<path d="M278,498 L432,498 L445,525 L265,525 Z" fill="#463F46"/>
</g>
</svg></g>
<g id="rsimmer"><rect x="734.7" y="268.0" width="83.1" height="91.0" fill="#FE0000"/><rect x="740.2" y="273.4" width="71.8" height="55.5" fill="#fff"/><svg class="ic" x="740.2" y="273.4" width="71.8" height="55.5" viewBox="740.2 273.4 71.8 55.5"><g transform="translate(740 272) scale(0.09891)">
<!-- counter outline -->
<path d="M160,482 L560,482 L592,562 L128,562 Z" fill="#FDFDFE" stroke="#D5D8DF" stroke-width="7"/>
<!-- body -->
<path d="M245,340 Q255,270 320,262 L400,262 Q440,272 445,320 L440,420 L330,470 L255,440 Z" fill="#8FBA50"/>
<path d="M300,275 L405,275 L420,420 L330,470 L290,440 Z" fill="#2F7D50"/>
<path d="M255,400 L330,440 L312,480 L250,470 Z" fill="#2F7D50"/>
<!-- neck -->
<rect x="325" y="240" width="50" height="34" fill="#F6CBA6"/>
<!-- hair -->
<ellipse cx="348" cy="125" rx="102" ry="88" fill="#1F1B20"/>
<!-- face -->
<ellipse cx="350" cy="178" rx="98" ry="84" fill="#FBDAB7"/>
<ellipse cx="250" cy="190" rx="15" ry="20" fill="#FBDAB7"/>
<ellipse cx="450" cy="190" rx="15" ry="20" fill="#FBDAB7"/>
<path d="M250,170 Q255,95 320,88 Q300,130 262,150 Z" fill="#1F1B20"/>
<path d="M320,88 Q425,85 448,170 Q400,135 320,88 Z" fill="#1F1B20"/>
<ellipse cx="318" cy="160" rx="10" ry="12" fill="#3a2c2c"/>
<ellipse cx="385" cy="160" rx="10" ry="12" fill="#3a2c2c"/>
<ellipse cx="290" cy="198" rx="22" ry="14" fill="#F6A79C" opacity=".6"/>
<ellipse cx="415" cy="198" rx="22" ry="14" fill="#F6A79C" opacity=".6"/>
<path d="M332,210 Q352,232 372,210 Z" fill="#D8504E"/>
<!-- bowl in hand -->
<path d="M340,318 Q392,300 440,320 Q432,352 390,352 Q350,350 340,318 Z" fill="#F4F1EC"/>
<ellipse cx="390" cy="316" rx="48" ry="13" fill="#4A2E24"/>
<path d="M420,320 Q455,330 448,360 Q425,370 405,352 Z" fill="#FAD5B2"/>
<!-- arm with ladle -->
<path d="M262,345 Q290,330 318,350 L322,400 Q300,420 270,410 Z" fill="#FAD5B2"/>
<path d="M205,520 L298,440 L312,455 L222,538 Z" fill="#B37B4A"/>
<path d="M300,425 Q335,395 365,405 L372,420 Q345,440 318,455 Z" fill="#E9ECF1"/>
<!-- pot -->
<path d="M385,395 Q430,372 495,395 L500,428 L380,428 Z" fill="#8A4B2E"/>
<rect x="325" y="425" width="188" height="105" rx="12" fill="#8E97A5"/>
<rect x="318" y="420" width="202" height="20" rx="9" fill="#A7AFBB"/>
<rect x="500" y="428" width="28" height="14" rx="5" fill="#4b4650"/>
<path d="M335,528 L505,528 L515,545 L325,545 Z" fill="#5a5560"/>
</g>
</svg></g>
<g id="goal"><rect x="930.6" y="268.1" width="83.3" height="91.3" fill="#FE0000"/><rect x="935.9" y="273.6" width="72.6" height="55.8" fill="#fff"/><svg class="ic" x="935.9" y="273.6" width="72.6" height="55.8" viewBox="935.9 273.6 72.6 55.8"><g transform="translate(936 272) scale(0.09891)">
<!-- table -->
<path d="M125,490 L608,490 L612,580 L120,580 Z" fill="#FDFDFE" stroke="#E1E3E8" stroke-width="7"/>
<!-- girl body -->
<path d="M172,370 Q180,315 235,308 L290,308 Q330,318 335,370 L330,485 L185,485 Z" fill="#F06B57"/>
<path d="M168,380 Q160,440 200,470 L215,440 Q195,420 198,385 Z" fill="#FAD5B2"/>
<!-- girl ponytail -->
<path d="M318,125 Q330,95 365,98 Q390,105 375,125 Q350,140 325,140 Z" fill="#1F1A1E"/>
<!-- girl hair/head -->
<ellipse cx="245" cy="195" rx="105" ry="95" fill="#1F1A1E"/>
<ellipse cx="245" cy="235" rx="90" ry="80" fill="#FBDAB7"/>
<path d="M155,235 Q160,150 245,140 Q330,148 338,235 Q320,180 285,172 Q240,200 180,185 Q162,205 155,235 Z" fill="#1F1A1E"/>
<ellipse cx="215" cy="240" rx="9" ry="12" fill="#3a2c2c"/>
<ellipse cx="275" cy="240" rx="9" ry="12" fill="#3a2c2c"/>
<ellipse cx="190" cy="265" rx="18" ry="12" fill="#F6A79C" opacity=".7"/>
<ellipse cx="300" cy="265" rx="18" ry="12" fill="#F6A79C" opacity=".7"/>
<ellipse cx="243" cy="288" rx="12" ry="14" fill="#B23A32"/>
<!-- girl arm/spoon/plate -->
<path d="M250,320 L300,315 L312,345 Q300,370 270,360 Z" fill="#FAD5B2"/>
<rect x="245" y="312" width="62" height="10" rx="5" fill="#5a3a2e"/>
<path d="M245,440 Q275,425 300,440 L300,478 L245,478 Z" fill="#8A4B2E"/>
<ellipse cx="232" cy="470" rx="42" ry="14" fill="#F1F1F4"/>
<!-- woman body -->
<path d="M432,385 Q440,335 490,328 L535,328 Q580,338 585,390 L560,490 L470,490 Z" fill="#3FB7A8"/>
<path d="M470,400 L560,400 L560,432 L470,432 Z" fill="#F8F8FA"/>
<path d="M555,385 Q590,420 565,470 L545,455 Q560,425 545,400 Z" fill="#FAD5B2"/>
<!-- woman head -->
<ellipse cx="512" cy="205" rx="98" ry="100" fill="#1F1A1E"/>
<path d="M560,270 Q600,290 585,320 Q560,330 545,305 Z" fill="#1F1A1E"/>
<ellipse cx="505" cy="240" rx="85" ry="80" fill="#FBDAB7"/>
<path d="M420,240 Q425,150 500,140 Q480,190 435,215 Z" fill="#1F1A1E"/>
<path d="M500,140 Q590,145 600,245 Q560,200 500,140 Z" fill="#1F1A1E"/>
<path d="M455,235 Q468,226 482,235 M520,238 Q534,229 548,238" stroke="#3a2c2c" stroke-width="7" fill="none" stroke-linecap="round"/>
<ellipse cx="448" cy="268" rx="18" ry="12" fill="#F6A79C" opacity=".7"/>
<ellipse cx="555" cy="272" rx="18" ry="12" fill="#F6A79C" opacity=".7"/>
<path d="M488,285 Q502,294 516,285" stroke="#B8624E" stroke-width="6" fill="none" stroke-linecap="round"/>
<path d="M470,318 L540,318 L530,335 L480,335 Z" fill="#F4F4F7"/>
<!-- pot -->
<path d="M322,412 L322,535 Q322,560 395,560 Q466,560 466,535 L466,412 Z" fill="#C4C5D6"/>
<ellipse cx="394" cy="412" rx="72" ry="20" fill="#B4B6C8"/>
<ellipse cx="394" cy="414" rx="60" ry="13" fill="#6E3F33"/>
<rect x="338" y="455" width="40" height="12" fill="#6E3F55"/>
</g>
</svg></g>
<g id="title"><text x="14.6 52.3 89.7 129.8 169.1 207.7 246.8 285.3 322.7" y="40.2" font-size="39" font-weight="bold" fill="#F7941E" text-anchor="middle">【カレーを作る！】</text></g>
<g id="labels" fill="#0a0a0a" stroke="#0a0a0a" stroke-width="0.5" stroke-linejoin="round" font-size="12.5" font-weight="bold" text-anchor="middle" letter-spacing="0.5">
<text x="183.3" y="64.7">米屋でコメを買う</text>
<text x="335.8" y="64.7">お米を研ぐ</text>
<text x="473.8" y="64.6">コメを炊く</text>
<text x="610.8" y="64.8">ご飯を盛る</text>
<text x="184.7" y="199.6">肉屋で肉を買う</text>
<text x="54.3" y="260.8">カレー作る！</text>
<text x="187.0" y="335.7">八百屋で野菜を買う</text>
<text x="188.1" y="472.2">スーパーでルーを買う</text>
<text x="336.5" y="261.3">食材を切る</text>
<text x="476.4" y="261.5">食材を炒める</text>
<text x="609.5" y="261.8">食材を煮込む</text>
<text x="776.5" y="262.0">ルーを煮込む</text>
<text x="976.9" y="262.1">カレーが完成！</text>
</g>
</svg>
<div class="band" style="left:136.1px;top:136.1px"><span class="d">10</span><span class="f">分</span></div>
<div class="band" style="left:296.6px;top:136.1px"><span class="d">5</span><span class="f">分</span></div>
<div class="band" style="left:430.8px;top:136.5px"><span class="d">30</span><span class="f">分</span></div>
<div class="band" style="left:565.1px;top:136.3px"><span class="d">5</span><span class="f">分</span></div>
<div class="band" style="left:139.1px;top:270.8px"><span class="d">20</span><span class="f">分</span></div>
<div class="band" style="left:4.3px;top:334.3px"><span class="w">START</span></div>
<div class="band" style="left:138.1px;top:408.6px"><span class="d">10</span><span class="f">分</span></div>
<div class="band" style="left:138.7px;top:544.7px"><span class="d">10</span><span class="f">分</span></div>
<div class="band" style="left:291.8px;top:334.3px"><span class="d">10</span><span class="f">分</span></div>
<div class="band" style="left:432.4px;top:334.5px"><span class="d">10</span><span class="f">分</span></div>
<div class="band" style="left:566.6px;top:334.5px"><span class="d">25</span><span class="f">分</span></div>
<div class="band" style="left:733.4px;top:334.4px"><span class="d">10</span><span class="f">分</span></div>
<div class="band" style="left:925.8px;top:334.2px"><span class="w">GOAL</span></div>
</div>
</body></html>
